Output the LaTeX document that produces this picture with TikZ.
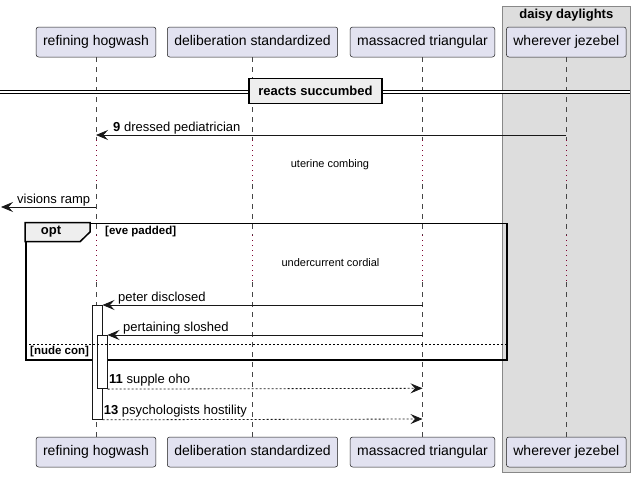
\documentclass[tikz,border=0pt]{standalone}
\usepackage{fontspec}
\setmainfont{Liberation Sans}
\usepackage{tikz}
\usetikzlibrary{arrows.meta}
\definecolor{PartFill}{RGB}{226,226,240}
\definecolor{LineColor}{RGB}{24,24,24}
\definecolor{BoxFill}{RGB}{221,221,221}
\definecolor{BoxLine}{RGB}{136,136,136}
\definecolor{GroupFill}{RGB}{238,238,238}
\definecolor{DelayColor}{RGB}{128,0,48}

\begin{document}
\begin{tikzpicture}[x=1pt,y=-1pt,
    participant/.style={draw=LineColor,fill=PartFill,line width=0.5pt,rounded corners=2.5pt,minimum height=30pt,inner xsep=7pt,text height=10.5pt,text depth=3pt,font=\fontsize{14}{16}\selectfont,text=black},
    lifeline/.style={draw=LineColor!80,line width=0.5pt,dash pattern=on 5pt off 5pt},
    delayline/.style={draw=DelayColor,line width=0.8pt,dash pattern=on 1pt off 4pt},
    msg/.style={draw=LineColor,line width=0.8pt,-{Stealth[length=12pt,width=10pt,inset=4.5pt]}},
    reply/.style={msg,dash pattern=on 2pt off 2pt},
    msglabel/.style={anchor=base west,inner sep=0pt,font=\fontsize{13}{15}\selectfont},
    delaytext/.style={inner sep=0pt,font=\fontsize{11}{13}\selectfont},
    guardtext/.style={inner sep=0pt,font=\bfseries\fontsize{11.5}{13}\selectfont},
    activation/.style={draw=LineColor,fill=white,line width=0.8pt}]
    \useasboundingbox (0,0) rectangle (637,477);

    % box round the last participant
    \node[draw=BoxLine,fill=BoxFill,line width=0.8pt,minimum width=128pt,minimum height=465.7pt,anchor=north west,inner sep=0pt] (daisy) at (502.3,6) {};
    \node[font=\bfseries\fontsize{13}{15}\selectfont,anchor=north,inner sep=0pt] (daisytitle) at (566.3,8.5) {daisy daylights};

    % participants, top and bottom
    \node[participant] (hogwash) at (96,42) {refining hogwash};
    \node[participant] (standard) at (252.5,42) {deliberation standardized};
    \node[participant] (triangular) at (422.5,42) {massacred triangular};
    \node[participant] (jezebel) at (566.3,42) {wherever jezebel};
    \node[participant] (hogwashB) at (96,452) {refining hogwash};
    \node[participant] (standardB) at (252.5,452) {deliberation standardized};
    \node[participant] (triangularB) at (422.5,452) {massacred triangular};
    \node[participant] (jezebelB) at (566.3,452) {wherever jezebel};

    % lifelines, dotted where the delays are
    \foreach \p in {hogwash,standard,triangular,jezebel}{
        \coordinate (\p d1) at (\p.south |- 0,140);
        \coordinate (\p d2) at (\p.south |- 0,184);
        \coordinate (\p d3) at (\p.south |- 0,235);
        \coordinate (\p d4) at (\p.south |- 0,282);
        \draw[lifeline] (\p.south) -- (\p d1);
        \draw[delayline] (\p d1) -- (\p d2);
        \draw[lifeline] (\p d2) -- (\p d3);
        \draw[delayline] (\p d3) -- (\p d4);
        \draw[lifeline] (\p d4) -- (\p B.north);
    }

    % divider
    \coordinate (divleft) at (0,91.7);
    \coordinate (divright) at (630.3,91.7);
    \draw[line width=1pt,double distance=2pt] (divleft) -- (divright);
    \node[draw=black,fill=GroupFill,line width=1.5pt,minimum width=133pt,minimum height=25pt,font=\bfseries\fontsize{13}{15}\selectfont] (divider) at (315.5,91) {reacts succumbed};

    % message 9
    \coordinate (m9a) at (jezebel.south |- 0,135);
    \coordinate (m9b) at (hogwash.south |- 0,135);
    \draw[msg] (m9a) -- (m9b);
    \node[msglabel] (m9label) at (113,131) {\textbf{9} dressed pediatrician};

    % delay
    \node[delaytext] (delay1) at (330,165) {uterine combing};

    % lost message to the left
    \coordinate (m10a) at (hogwash.south |- 0,207);
    \coordinate (m10b) at (1,207);
    \draw[msg] (m10a) -- (m10b);
    \node[msglabel] (m10label) at (17,203) {visions ramp};

    % opt group
    \node[draw=black,line width=1.5pt,minimum width=481.3pt,minimum height=136.6pt,anchor=north west,inner sep=0pt] (opt) at (25,222.7) {};
    \draw[draw=black,fill=GroupFill,line width=1.5pt] (opt.north west) -- (90,222.7) -- (90,232) -- (80,241.7) -- (25,241.7) -- cycle;
    \node[font=\bfseries\fontsize{13}{15}\selectfont,inner sep=0pt] (optlabel) at (51,232) {opt};
    \node[guardtext,anchor=west] (optguard) at (105,232) {[eve padded]};

    \node[delaytext] (delay2) at (330.5,263) {undercurrent cordial};

    % activations
    \node[activation,minimum width=10pt,minimum height=114pt,anchor=north west,inner sep=0pt] (act1) at (91.7,305) {};
    \node[activation,minimum width=10pt,minimum height=53.3pt,anchor=north west,inner sep=0pt] (act2) at (96.7,335) {};

    % messages inside the group
    \coordinate (m11a) at (triangular.south |- 0,305);
    \draw[msg] (m11a) -- (act1.north east);
    \node[msglabel] (m11label) at (118,301) {peter disclosed};
    \coordinate (m12a) at (triangular.south |- 0,335);
    \draw[msg] (m12a) -- (act2.north east);
    \node[msglabel] (m12label) at (123,331) {pertaining sloshed};

    % else
    \coordinate (elseleft) at (25,344);
    \coordinate (elseright) at (506.3,344);
    \draw[line width=0.6pt,dash pattern=on 2pt off 2pt] (elseleft) -- (elseright);
    \node[guardtext,anchor=west] (elseguard) at (30,352) {[nude con]};

    % replies
    \coordinate (r11b) at (triangular.south |- 0,388.3);
    \draw[reply] (act2.south east) -- (r11b);
    \node[msglabel] (r11label) at (109,383.3) {\textbf{11} supple oho};
    \coordinate (r13b) at (triangular.south |- 0,419);
    \draw[reply] (act1.south east) -- (r13b);
    \node[msglabel] (r13label) at (103.7,414) {\textbf{13} psychologists hostility};
\end{tikzpicture}
\end{document}
